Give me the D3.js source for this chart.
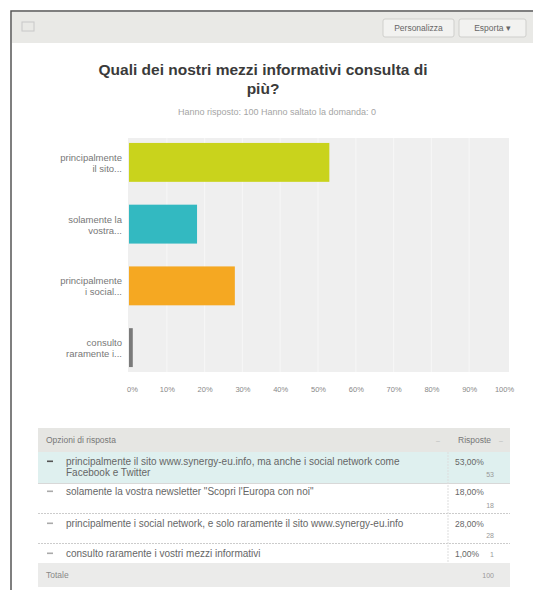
<!DOCTYPE html>
<html><head><meta charset="utf-8">
<script src="https://cdn.jsdelivr.net/npm/d3@7"></script>
<style>
body{margin:0;background:#fff;}
text{font-family:"Liberation Sans",Arial,sans-serif;}
</style></head>
<body><svg id="c" width="533" height="590"></svg>
<script>
const shortLabels = [["principalmente","il sito..."],["solamente la","vostra..."],["principalmente","i social..."],["consulto","raramente i..."]];
const fullLabels = [
 ["principalmente il sito www.synergy-eu.info, ma anche i social network come","Facebook e Twitter"],
 ["solamente la vostra newsletter \"Scopri l'Europa con noi\""],
 ["principalmente i social network, e solo raramente il sito www.synergy-eu.info"],
 ["consulto raramente i vostri mezzi informativi"]
];
const percents = [53, 18, 28, 1];
const counts = [53, 18, 28, 1];
const pctLabels = ["53,00%","18,00%","28,00%","1,00%"];
const total = 100;
const colors = ["#c9d31c","#33b9c1","#f5a822","#7a7a7a"];
const ticks = [0,10,20,30,40,50,60,70,80,90,100];

const svg = d3.select("#c");
// frame
svg.append("rect").attr("x",11).attr("y",11).attr("width",540).attr("height",600).attr("fill","#fff").attr("stroke","#555").attr("stroke-width",1.5);
// header bar
svg.append("rect").attr("x",12).attr("y",12).attr("width",521).attr("height",31).attr("fill","#e9e9e6");
svg.append("rect").attr("x",22).attr("y",22).attr("width",12).attr("height",9).attr("fill","none").attr("stroke","#c8c8c8");
// buttons
[[383,71,"Personalizza"],[459,67,"Esporta ▾"]].forEach(([x,w,t])=>{
  svg.append("rect").attr("x",x).attr("y",19).attr("width",w).attr("height",18).attr("rx",2).attr("fill","#f2f2f0").attr("stroke","#cfcfcc");
  svg.append("text").attr("x",x+w/2).attr("y",31).attr("text-anchor","middle").attr("font-size",8.5).attr("fill","#666").text(t);
});
// title
svg.append("text").attr("x",263).attr("y",75).attr("text-anchor","middle").attr("font-size",15.5).attr("font-weight","bold").attr("fill","#3a3a3a").text("Quali dei nostri mezzi informativi consulta di");
svg.append("text").attr("x",263).attr("y",94).attr("text-anchor","middle").attr("font-size",15.5).attr("font-weight","bold").attr("fill","#3a3a3a").text("più?");
svg.append("text").attr("x",277).attr("y",115).attr("text-anchor","middle").attr("font-size",9).attr("fill","#a5a5a5").text("Hanno risposto: 100    Hanno saltato la domanda: 0");

// chart
const x = d3.scaleLinear().domain([0,100]).range([129,507]);
const y = d3.scaleBand().domain(d3.range(percents.length)).range([138,372]).paddingInner(0.37).paddingOuter(0.08);
svg.append("rect").attr("x",128).attr("y",138).attr("width",381).attr("height",234).attr("fill","#efefef");
svg.append("g").selectAll("line").data(ticks.slice(1,-1)).join("line")
  .attr("x1",d=>x(d)).attr("x2",d=>x(d)).attr("y1",138).attr("y2",372).attr("stroke","#f7f7f7").attr("stroke-width",1);
svg.append("g").selectAll("rect").data(percents).join("rect")
  .attr("x",x(0)).attr("y",(d,i)=>y(i)).attr("width",d=>Math.max(2,x(d)-x(0))).attr("height",y.bandwidth())
  .attr("fill",(d,i)=>colors[i]);
const yl = svg.append("g");
shortLabels.forEach((ls,i)=>{
  ls.forEach((l,j)=>{
    yl.append("text").attr("x",122).attr("y",y(i)+y.bandwidth()/2-1.5+j*11).attr("text-anchor","end").attr("font-size",9.5).attr("fill","#777").text(l);
  });
});
const ax = d3.axisBottom(x).tickValues(ticks).tickFormat(d=>d+"%").tickSize(0).tickPadding(0);
const axg = svg.append("g").attr("transform","translate(0,387)").call(ax);
axg.select(".domain").remove();
axg.selectAll("text").attr("font-size",7.5).attr("fill","#888").attr("font-family","Liberation Sans, Arial, sans-serif").attr("dy","0.7em");
axg.selectAll(".tick").filter(d=>d===0).select("text").attr("dx",3);
axg.selectAll(".tick").filter(d=>d===100).select("text").attr("dx",-3);

// table
const tx0=38, tx1=510, tcol=448;
svg.append("rect").attr("x",tx0).attr("y",428).attr("width",tx1-tx0).attr("height",24).attr("fill","#e6e6e3");
svg.append("text").attr("x",46).attr("y",443).attr("font-size",8.5).attr("fill","#777").text("Opzioni di risposta");
svg.append("text").attr("x",436).attr("y",443).attr("font-size",7).attr("fill","#bbb").text("–");
svg.append("text").attr("x",458).attr("y",443).attr("font-size",8.5).attr("fill","#777").text("Risposte");
svg.append("text").attr("x",499).attr("y",443).attr("font-size",7).attr("fill","#bbb").text("–");
const rows = [[452,31],[483,30],[513,30],[543,20]];
const textY = [465,495,527,557];
const cntY = [477,508,538,557];
rows.forEach(([ry,rh],i)=>{
  svg.append("rect").attr("x",tx0).attr("y",ry).attr("width",tx1-tx0).attr("height",rh).attr("fill",i===0?"#dff0ef":"#fff");
  if(i>0) svg.append("line").attr("x1",tx0).attr("x2",tx1).attr("y1",ry+0.5).attr("y2",ry+0.5).attr("stroke",i===1?"#d8d8d8":"#ccc").attr("stroke-dasharray",i===1?null:"2,1");
  svg.append("rect").attr("x",47).attr("y",textY[i]-4.5).attr("width",6).attr("height",1.6).attr("fill",i===0?"#555":"#aaa");
  fullLabels[i].forEach((l,j)=>{
    svg.append("text").attr("x",66).attr("y",textY[i]+j*11).attr("font-size",10).attr("fill","#666").text(l);
  });
  svg.append("text").attr("x",455).attr("y",textY[i]).attr("font-size",8.5).attr("fill","#666").text(pctLabels[i]);
  svg.append("text").attr("x",494).attr("y",cntY[i]).attr("text-anchor","end").attr("font-size",7).attr("fill","#999").text(counts[i]);
});
svg.append("line").attr("x1",tcol).attr("x2",tcol).attr("y1",452).attr("y2",563).attr("stroke","#ddd").attr("stroke-dasharray","2,1");
svg.append("rect").attr("x",tx0).attr("y",563).attr("width",tx1-tx0).attr("height",24).attr("fill","#ebebea");
svg.append("text").attr("x",46).attr("y",578).attr("font-size",8.5).attr("fill","#888").text("Totale");
svg.append("text").attr("x",494).attr("y",578).attr("text-anchor","end").attr("font-size",7).attr("fill","#999").text(total);
</script></body></html>
